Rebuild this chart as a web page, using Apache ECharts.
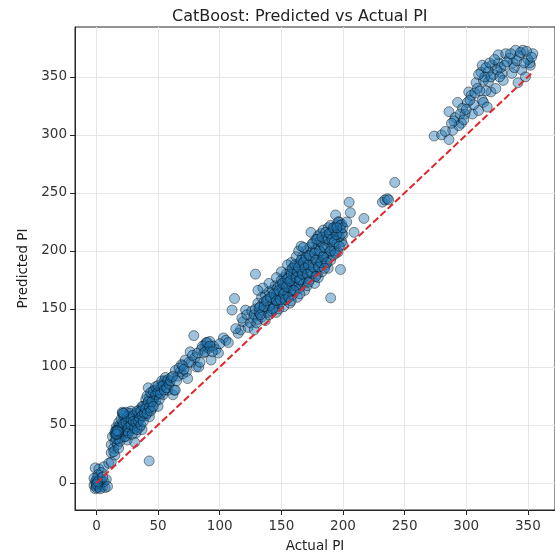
<!DOCTYPE html>
<html>
<head>
<meta charset="utf-8">
<script src="https://cdn.jsdelivr.net/npm/echarts@6/dist/echarts.min.js"></script>
<style>
  html, body { margin: 0; padding: 0; background: #fff; }
  #chart { width: 555px; height: 560px; }
</style>
</head>
<body>
<div id="chart"></div>
<script>
// [actual PI, predicted PI] pairs, grouped by range of actual PI
const nearZero = [
  [0,-2],[0,0],[1,-3],[-1,1],[2,-4],[0,3],[1,2],[3,-1],[5,-3],[7,-4],
  [-2,-2],[-1,-5],[2,0],[4,2],[0,-4],[1,5],[3,4],[6,1],[8,3],[-1,13],
  [2,12],[6,14],[4,9],[1,7],[-2,4],[0,-1],[3,-5],[1,1],[9,-3],[5,5]
];

const lowRange = [
  [10,17],[12,18],[12,26],[12,33],[13,40],[14,30],[15,24],[15,36],[16,44],[16,48],
  [17,43],[17,33],[18,38],[18,46],[19,42],[19,50],[20,39],[20,45],[21,60],[21,52],
  [22,47],[22,42],[23,55],[23,47],[24,61],[24,40],[25,37],[25,50],[26,58],[27,52],
  [27,45],[28,62],[29,47],[29,56],[30,49],[31,35],[31,55],[32,43],[32,60],[33,52],
  [34,58],[35,63],[35,48],[36,56],[37,46],[37,66],[38,60],[39,65],[40,72],[40,58],
  [41,68],[42,62],[42,82],[43,57],[43,74],[44,69],[45,76],[45,64],[46,72],[47,74],
  [47,80],[48,70],[49,80],[49,76],[50,66],[51,78],[52,83],[53,83],[54,76],[55,88],
  [56,87],[57,86],[58,80],[42.8,19],
  [14,27],[15,42],[16,38],[17,47],[18,52],[18,30],[19,36],[20,55],[20,48],[21,44],
  [22,58],[22,51],[23,40],[24,52],[24,45],[25,57],[26,48],[26,43],[27,60],[28,50],
  [28,55],[29,42],[30,58],[30,53],[31,47],[32,52],[33,62],[33,46],[34,53],[35,56],
  [36,62],[36,50],[37,58],[38,66],[38,53],[39,60],[40,64],[41,60],[41,75],[42,70],
  [43,65],[44,78],[44,62],[45,70],[46,79],[46,66],[48,76],[48,83],[50,78],[50,84],
  [51,72],[52,77],[53,88],[54,84],[55,80],[56,91],[57,82],[58,89],[59,85],
  [16,43],[17,44],[16,45],[17,42],[18,44],[15,44],[16,42],[17,45],[21,61],[22,60]
];

const midRange = [
  [60,88],[61,91],[62,76],[63,80],[64,97],[64,80],[66,92],[68,96],[69,102],[70,94],
  [72,106],[73,96],[74,90],[76,113],[77,104],[79,127],[80,108],[81,100],[83,100],[84,104],
  [85,115],[87,112],[88,119],[89,121],[90,117],[91,116],[92,122],[93,106],[95,118],[97,115],
  [99,112],[103,125],[105,123],[107,121],[110,149],[112,159],[115,129],[117,132],[119,139],[121,149],
  [123,134],[125,138],[127,142],[128,132],[129,180],
  [62,92],[65,88],[67,99],[70,101],[71,98],[75,104],[78,110],[82,112],[86,118],[88,113],
  [90,121],[92,118],[94,113],[100,120],[113,133],[118,142],[122,145],[126,148]
];

const denseRange = [
  [128,145],[129,150],[130,138],[131,141],[131,155],[132,147],[133,152],[134,143],[134,160],[135,149],
  [136,156],[137,140],[137,162],[138,151],[139,147],[139,158],[140,145],[140,165],
  [141,153],[142,160],[142,148],[143,166],[143,155],[144,151],[145,170],[145,158],[146,147],[146,163],
  [147,155],[147,168],[148,160],[148,150],[149,171],[149,164],[150,156],[150,175],
  [151,160],[151,168],[152,152],[152,177],[153,165],[153,171],[154,158],[154,180],[155,163],[155,172],
  [156,168],[156,178],[157,155],[157,183],[158,166],[158,175],[159,170],[159,162],[160,180],[160,172],[160,186],
  [161,165],[161,176],[162,183],[162,170],[163,188],[163,160],[164,178],[164,173],[165,190],[165,168],
  [166,182],[166,175],[167,195],[167,186],[168,172],[168,180],[169,192],[169,166],[170,185],[170,200],[170,176],
  [171,190],[171,170],[172,196],[172,181],[173,203],[173,175],[174,216],[174,188],[175,199],[175,180],
  [176,193],[176,207],[177,185],[177,172],[178,201],[178,210],[179,190],[179,180],[180,205],[180,195],[180,213],[180,177],
  [181,186],[181,208],[182,199],[182,215],[183,192],[183,182],[184,205],[184,218],[185,196],[185,210],
  [186,188],[186,202],[187,213],[187,195],[188,220],[188,185],[189,207],[189,199],[190,159.5],[190,214],[190,192],[190,222],
  [191,204],[191,217],[192,210],[192,196],[193,220],[193,200],[194,231],[194,213],[195,206],[195,222],
  [196,217],[196,199],[197,212],[197,225],[198,184],[198,218],[199,208],[199,223],[200,214],[200,205],
  [158,190],[162,195],[164,200],[166,204],[168,203],[155,188],[150,182],[146,177],[140,172],[135,168],[131,166],
  [132,151],[133,145],[136,152],[138,157],[141,160],[143,150],[144,163],[146,157],[148,166],[149,158],
  [151,172],[152,163],[153,158],[154,169],[155,176],[156,160],[157,174],[158,180],[159,185],[160,166],
  [161,188],[162,177],[163,182],[164,186],[165,175],[166,192],[167,180],[168,190],[169,185],[170,194],
  [171,180],[172,188],[173,196],[174,182],[175,206],[176,186],[177,198],[178,192],[179,210],[180,186],
  [181,200],[182,190],[183,212],[184,195],[185,203],[186,216],[187,190],[188,210],[189,215],[190,200],
  [191,210],[192,220],[193,208],[194,198],[195,214],[196,225],[197,204],[198,222],[199,215],[200,220],
  [185,185],[178,178],[172,173],[165,163],[158,157]
];

const upperMidRange = [
  [203,225],[195,220],[205,242],[206,233],[209,216],[217,228],[232,242],[234,244],[236,245],[237,244],[242,259]
];

const highRange = [
  [274,299],[280,300],[286,296],[289,304],[286,320],[291,315],[296,310],[293,328],[297,323],[301,328],
  [302,337],[305,318],[308,345],[310,321],[313,330],[314,328],[317,324],[318,346],[320,337],[312,354],
  [313,360],[314,347],[321,360],[322,352],[326,362],[329,353],[330,347],[337,353],[342,345],[345,356],
  [348,350],[352,360],[326,369],[332,370],[340,373],[346,373],[354,370],[351.6,362],[335,366],[318,355],
  [324,340],[299,318],[294,308],[304,334],[309,340],[316,338],[338,362],[343,368],[350,365],[328,358],
  [306,326],[283,303],[290,312],
  [295,318],[300,322],[303,330],[307,336],[311,338],[315,350],[316,358],[319,362],[323,365],[325,356],
  [327,350],[331,360],[333,363],[336,370],[339,358],[341,364],[344,371],[347,362],[349,372],[353,367],
  [310,352],[320,350],[298,313],[288,310]
];

// ideal-fit reference line, from the smallest to the largest actual value
const diagonal = [0, 353.5];

// tick labels
const xTicks = [0, 50, 100, 150, 200, 250, 300, 350];
const yTicks = [0, 50, 100, 150, 200, 250, 300, 350];

const points = [].concat(nearZero, lowRange, midRange, denseRange, upperMidRange, highRange);

const font = 'DejaVu Sans';
const axisColor = '#262626';

function axisCommon(ticks) {
  return {
    type: 'value',
    splitNumber: 8,
    axisLine: { show: true, onZero: false, lineStyle: { color: axisColor, width: 1 } },
    axisTick: { show: true, inside: false, length: 5, customValues: ticks, lineStyle: { color: axisColor, width: 1 } },
    axisLabel: {
      show: true,
      customValues: ticks,
      formatter: v => (ticks.indexOf(v) >= 0 ? String(v) : ''),
      color: '#333',
      fontSize: 13.5,
      fontFamily: font
    },
    splitLine: { show: true, lineStyle: { color: '#e6e6e6', width: 1 } },
    nameLocation: 'middle',
    nameTextStyle: { color: '#222', fontSize: 13.5, fontFamily: font }
  };
}

const xAxis = Object.assign(axisCommon(xTicks), {
  min: -17.4, max: 372,
  name: 'Actual PI', nameGap: 29
});
xAxis.axisLabel.margin = 9;

const yAxis = Object.assign(axisCommon(yTicks), {
  min: -23.3, max: 393,
  name: 'Predicted PI', nameGap: 45, nameRotate: 90
});
yAxis.axisLabel.margin = 8;

const chart = echarts.init(document.getElementById('chart'), null, { renderer: 'canvas' });
chart.setOption({
  animation: false,
  backgroundColor: '#ffffff',
  title: {
    text: 'CatBoost: Predicted vs Actual PI',
    left: 167, top: 4,
    textStyle: { fontSize: 16, fontWeight: 'normal', color: '#222', fontFamily: font }
  },
  grid: {
    left: 75, top: 27, width: 485, height: 483,
    show: true, borderColor: axisColor, borderWidth: 1, backgroundColor: 'transparent'
  },
  xAxis: xAxis,
  yAxis: yAxis,
  series: [
    {
      type: 'scatter',
      data: points,
      symbol: 'circle',
      symbolSize: 10,
      itemStyle: { color: 'rgba(31,119,180,0.55)', borderColor: 'rgba(0,0,0,0.55)', borderWidth: 1 },
      emphasis: { disabled: true },
      z: 2
    },
    {
      type: 'line',
      data: [[diagonal[0], diagonal[0]], [diagonal[1], diagonal[1]]],
      symbol: 'none',
      lineStyle: { color: '#e0262a', width: 2, type: [7, 3] },
      emphasis: { disabled: true },
      z: 3
    }
  ]
});
</script>
</body>
</html>
